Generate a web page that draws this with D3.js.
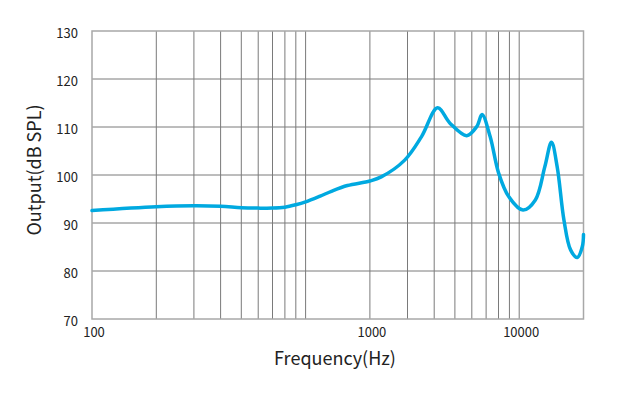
<!DOCTYPE html>
<html>
<head>
<meta charset="utf-8">
<script src="https://cdn.jsdelivr.net/npm/d3@7"></script>
<style>
  body { margin: 0; background: #fff; }
  text { font-family: "Noto Sans CJK SC", "Noto Sans", sans-serif; fill: #222; }
</style>
</head>
<body>
<div class="chart"></div>
<script>
const freqs = [100, 200, 300, 400, 500, 600, 700, 800, 900, 1000, 1170, 1320, 1570, 2000, 2260,
  2910, 3490, 4150, 4740, 5680, 6330, 6700, 7310, 8010, 8930, 10420, 11900, 13180, 14160,
  15060, 16200, 17400, 18700, 19750, 20000];
const output = [92.6, 93.4, 93.6, 93.5, 93.2, 93.1, 93.1, 93.3, 93.8, 94.4, 95.6, 96.6, 97.8, 98.75, 99.6,
  103.1, 108.0, 114.0, 110.8, 108.2, 110.1, 112.6, 108.0, 100.4, 95.5, 92.7, 94.8, 101.7, 106.8,
  101.7, 90.6, 84.4, 82.8, 85.1, 87.6];
const gridFreqs = [200, 300, 400, 500, 600, 700, 800, 900, 1000,
  2000, 3000, 4000, 5000, 6000, 7000, 8000, 9000, 10000];
const xTickValues = [100, 2000, 10000];
const xTickLabels = ["100", "1000", "10000"];
const yTicks = [70, 80, 90, 100, 110, 120, 130];

const W = 628, H = 399;
const plot = { left: 92, right: 583.5, top: 31, bottom: 319 };

const svg = d3.select(".chart").append("svg").attr("width", W).attr("height", H);

const x = d3.scaleLog().domain([100, 20000]).range([plot.left, plot.right]);
const y = d3.scaleLinear().domain([70, 130]).range([plot.bottom, plot.top]);

// grid
svg.append("g").selectAll("line").data(gridFreqs).enter().append("line")
  .attr("x1", d => x(d)).attr("x2", d => x(d))
  .attr("y1", plot.top).attr("y2", plot.bottom)
  .attr("stroke", "#7a7a7a").attr("stroke-width", 1);

svg.append("g").selectAll("line").data(yTicks.slice(1, -1)).enter().append("line")
  .attr("x1", plot.left).attr("x2", plot.right)
  .attr("y1", d => y(d)).attr("y2", d => y(d))
  .attr("stroke", "#7a7a7a").attr("stroke-width", 1);

// frame
svg.append("rect")
  .attr("x", plot.left).attr("y", plot.top)
  .attr("width", plot.right - plot.left).attr("height", plot.bottom - plot.top)
  .attr("fill", "none").attr("stroke", "#a8a8a8").attr("stroke-width", 1.5);

// curve
const line = d3.line()
  .x((d, i) => x(freqs[i]))
  .y(d => y(d))
  .curve(d3.curveCatmullRom.alpha(0.5));

svg.append("path")
  .datum(output)
  .attr("d", line)
  .attr("fill", "none")
  .attr("stroke", "#00a9e0")
  .attr("stroke-width", 3.5)
  .attr("stroke-linecap", "round")
  .attr("stroke-linejoin", "round");

// tick labels
svg.append("g").selectAll("text").data(yTicks).enter().append("text")
  .attr("x", 78).attr("y", d => y(d) + 2)
  .attr("dy", "0.35em")
  .attr("text-anchor", "end")
  .style("font-size", "13px")
  .text(d => d);

svg.append("g").selectAll("text").data(xTickValues).enter().append("text")
  .attr("x", d => x(d) + 2)
  .attr("y", 332)
  .attr("dy", "0.35em")
  .attr("text-anchor", "middle")
  .style("font-size", "13px")
  .text((d, i) => xTickLabels[i]);

// axis titles
svg.append("text")
  .attr("x", 335).attr("y", 359)
  .attr("dy", "0.35em")
  .attr("text-anchor", "middle")
  .style("font-size", "18px")
  .text("Frequency(Hz)");

svg.append("text")
  .attr("transform", "translate(35,170) rotate(-90)")
  .attr("dy", "0.35em")
  .attr("text-anchor", "middle")
  .style("font-size", "18px")
  .text("Output(dB SPL)");
</script>
</body>
</html>
